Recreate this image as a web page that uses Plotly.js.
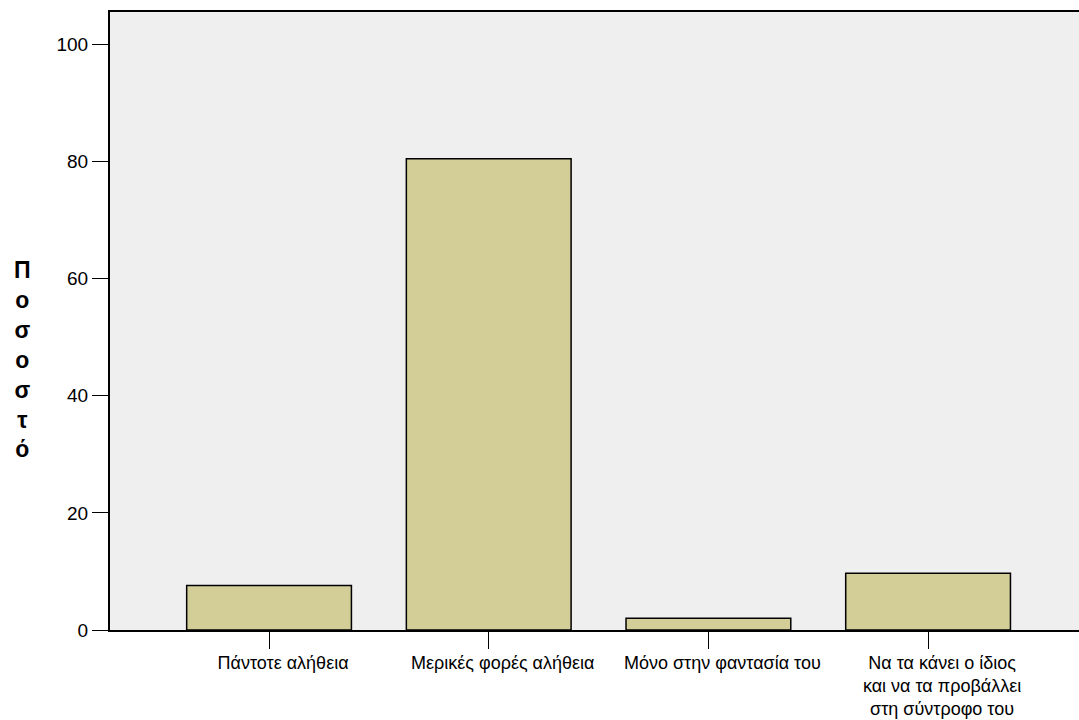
<!DOCTYPE html>
<html>
<head>
<meta charset="utf-8">
<script src="https://cdn.plot.ly/plotly-3.0.1.min.js"></script>
<style>html,body{margin:0;padding:0;background:#fff;}#chart{width:1079px;height:720px;}</style>
</head>
<body>
<div id="chart"></div>
<script>
const categories = [
  "Πάντοτε αλήθεια",
  "Μερικές φορές αλήθεια",
  "Μόνο στην φαντασία του",
  "Να τα κάνει ο ίδιος<br>και να τα προβάλλει<br>στη σύντροφο του"
];
const percentages = [7.6, 80.5, 2.0, 9.7];
const yTickValues = [0, 20, 40, 60, 80, 100];
const yTitleLetters = ["Π", "ο", "σ", "ο", "σ", "τ", "ό"];

const trace = {
  type: "bar",
  x: categories.map((c, i) => i),
  y: percentages,
  width: 0.75,
  marker: { color: "#d3ce98", line: { color: "#000000", width: 1.5 } },
  hoverinfo: "skip"
};

const layout = {
  width: 1079,
  height: 720,
  margin: { l: 110, r: 0, t: 12, b: 90, pad: 0 },
  paper_bgcolor: "#ffffff",
  plot_bgcolor: "#efefef",
  font: { family: "Liberation Sans, Arial, sans-serif", size: 18, color: "#000000" },
  showlegend: false,
  xaxis: {
    range: [-0.724, 3.687],
    tickmode: "array",
    tickvals: categories.map((c, i) => i),
    ticktext: categories,
    ticks: "outside",
    ticklen: 17,
    tickwidth: 1,
    tickcolor: "#000000",
    showline: true,
    linecolor: "#000000",
    linewidth: 2,
    mirror: true,
    showgrid: false,
    zeroline: false,
    ticklabelshift: 14,
    ticklabelstandoff: -2,
    tickfont: { size: 18 }
  },
  yaxis: {
    range: [0, 105.56],
    tickmode: "array",
    tickvals: yTickValues,
    ticks: "outside",
    ticklen: 16,
    tickwidth: 1,
    tickcolor: "#000000",
    showline: true,
    linecolor: "#000000",
    linewidth: 2,
    showgrid: false,
    zeroline: false,
    tickfont: { size: 19 }
  },
  annotations: [{
    xref: "paper", yref: "paper",
    x: (22 - 110) / 969, y: (630 - 359) / 618,
    xanchor: "center", yanchor: "middle",
    showarrow: false,
    text: yTitleLetters.join("<br>"),
    font: { size: 23, family: "Liberation Sans, Arial, sans-serif", color: "#000000", weight: "bold" }
  }]
};

Plotly.newPlot("chart", [trace], layout, { staticPlot: true, displayModeBar: false });
</script>
</body>
</html>
